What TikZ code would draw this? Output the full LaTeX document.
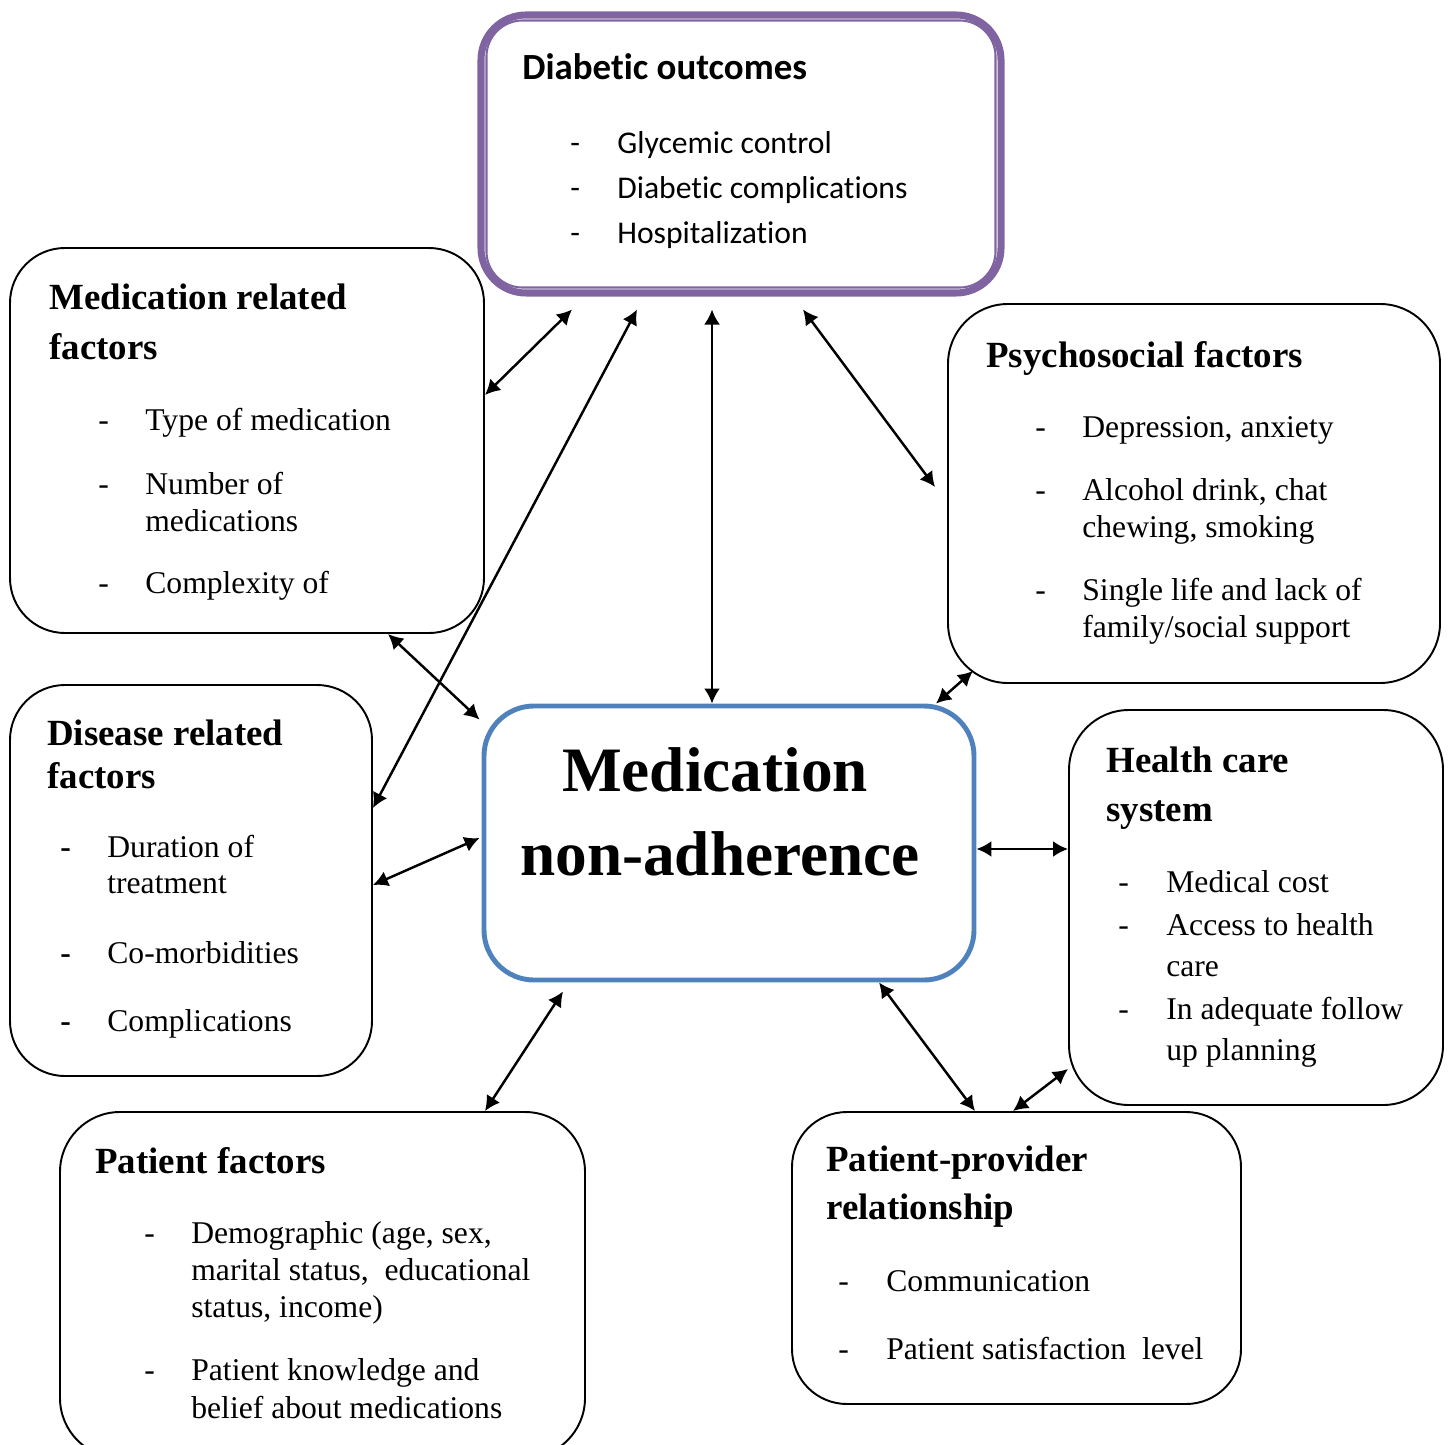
\documentclass[tikz,border=0pt]{standalone}
\usepackage{fontspec}
\setmainfont{Liberation Serif}
\newfontfamily\calibri[Ligatures=NoCommon]{Carlito}
\usetikzlibrary{arrows.meta}
\usetikzlibrary{calc}
\definecolor{outpurple}{HTML}{8064A2}
\definecolor{nonblue}{HTML}{4F81BD}
\newcommand{\pxu}{0.2mm}

\begin{document}
\begin{tikzpicture}[x=\pxu,y=-\pxu]
   \tikzstyle{box} = [draw, line width=1.1pt, rounded corners=11mm,
     inner sep=0pt]
   \tikzstyle{ttl} = [anchor=base west, inner sep=0pt,
     font=\fontsize{21}{25}\selectfont\bfseries]
   \tikzstyle{itm} = [anchor=base west, inner sep=0pt,
     font=\fontsize{18}{21}\selectfont]
   \tikzstyle{sttl} = [ttl, font=\calibri\fontsize{21}{25}\selectfont\bfseries]
   \tikzstyle{sitm} = [itm, font=\calibri\fontsize{18}{21}\selectfont]
   \tikzstyle{big} = [anchor=base, inner sep=0pt,
     font=\fontsize{36}{43}\selectfont\bfseries]
   \tikzstyle{link} = [draw, line width=1.4pt,
     {Latex[length=3mm,width=3.2mm]}-{Latex[length=3mm,width=3.2mm]}]
   \useasboundingbox (0,0) rectangle (1450,1444);
    %%
    \node (dout) [box, draw=outpurple, line width=4pt, rounded corners=9mm,
      minimum width=104mm, minimum height=55.6mm] at (741,154) {};
    \draw [outpurple, line width=1.2pt, rounded corners=7.2mm]
      ($(dout.north west)+(9,9)$) rectangle ($(dout.south east)+(-9,-9)$);
    \node (doT) [sttl] at (522,80) {Diabetic outcomes};
    \node (doD1) [sitm] at (570,154) {-}; \node (doI1) [sitm] at (617,154) {Glycemic control};
    \node (doD2) [sitm] at (570,199) {-}; \node (doI2) [sitm] at (617,199) {Diabetic complications};
    \node (doD3) [sitm] at (570,244) {-}; \node (doI3) [sitm] at (617,244) {Hospitalization};
    %%
    \node (medrel) [box, minimum width=94.8mm, minimum height=77mm] at (247,440.5) {};
    \node (mrT1) [ttl] at (49,310) {Medication related};
    \node (mrT2) [ttl] at (49,359) {factors};
    \node (mrD1) [itm] at (98,430) {-}; \node (mrI1) [itm] at (145,430) {Type of medication};
    \node (mrD2) [itm] at (98,494) {-}; \node (mrI2a) [itm] at (145,494) {Number of};
    \node (mrI2b) [itm] at (145,531) {medications};
    \node (mrD3) [itm] at (98,593) {-}; \node (mrI3) [itm] at (145,593) {Complexity of};
    %%
    \node (psycho) [box, rounded corners=12mm, minimum width=98.4mm, minimum height=75.8mm]
      at (1194,493.5) {};
    \node (psT) [ttl] at (986,367) {Psychosocial factors};
    \node (psD1) [itm] at (1035,437) {-}; \node (psI1) [itm] at (1082,437) {Depression, anxiety};
    \node (psD2) [itm] at (1035,500) {-}; \node (psI2a) [itm] at (1082,500) {Alcohol drink, chat};
    \node (psI2b) [itm] at (1082,537) {chewing, smoking};
    \node (psD3) [itm] at (1035,600) {-}; \node (psI3a) [itm] at (1082,600) {Single life and lack of};
    \node (psI3b) [itm] at (1082,637) {family/social support};
    %%
    \node (disease) [box, minimum width=72.4mm, minimum height=78.2mm] at (191,880.5) {};
    \node (drT1) [ttl] at (47,745) {Disease related};
    \node (drT2) [ttl] at (47,788) {factors};
    \node (drD1) [itm] at (60,857) {\bfseries -}; \node (drI1a) [itm] at (107,857) {Duration of};
    \node (drI1b) [itm] at (107,893) {treatment};
    \node (drD2) [itm] at (60,963) {\bfseries -}; \node (drI2) [itm] at (107,963) {Co-morbidities};
    \node (drD3) [itm] at (60,1031) {\bfseries -}; \node (drI3) [itm] at (107,1031) {Complications};
    %%
    \node (nonadh) [box, draw=nonblue, line width=2.8pt, rounded corners=10mm,
      minimum width=98mm, minimum height=54.8mm] at (729,843) {};
    \node (naT1) [big] at (715,791) {Medication};
    \node (naT2) [big] at (720,875) {non-adherence};
    %%
    \node (health) [box, rounded corners=12mm, minimum width=74.8mm, minimum height=79mm]
      at (1256,907.5) {};
    \node (hcT1) [ttl] at (1106,772) {Health care};
    \node (hcT2) [ttl] at (1106,821) {system};
    \node (hcD1) [itm] at (1118,892) {-}; \node (hcI1) [itm] at (1166,892) {Medical cost};
    \node (hcD2) [itm] at (1118,935) {-}; \node (hcI2a) [itm] at (1166,935) {Access to health};
    \node (hcI2b) [itm] at (1166,976) {care};
    \node (hcD3) [itm] at (1118,1019) {-}; \node (hcI3a) [itm] at (1166,1019) {In adequate follow};
    \node (hcI3b) [itm] at (1166,1060) {up planning};
    %%
    \node (patient) [box, rounded corners=12mm, minimum width=105mm, minimum height=69.2mm]
      at (322.5,1285) {};
    \node (pfT) [ttl] at (95,1173) {Patient factors};
    \node (pfD1) [itm] at (144,1243) {-}; \node (pfI1a) [itm] at (191,1243) {Demographic (age, sex,};
    \node (pfI1b) [itm] at (191,1280) {marital status,\ \ educational};
    \node (pfI1c) [itm] at (191,1317) {status, income)};
    \node (pfD2) [itm] at (144,1380) {-}; \node (pfI2a) [itm] at (191,1380) {Patient knowledge and};
    \node (pfI2b) [itm] at (191,1418) {belief about medications};
    %%
    \node (ppr) [box, minimum width=89.8mm, minimum height=58.4mm] at (1016.5,1258) {};
    \node (ppT1) [ttl] at (826,1171) {Patient-provider};
    \node (ppT2) [ttl] at (826,1219) {relationship};
    \node (ppD1) [itm] at (838,1291) {-}; \node (ppI1) [itm] at (886,1291) {Communication};
    \node (ppD2) [itm] at (838,1359) {-}; \node (ppI2) [itm] at (886,1359) {Patient satisfaction\ \ level};
    %%
    \path [link] ($(medrel.east)+(0,-45.5)$) -- ($(dout.south)+(-169,13)$);
    \path [link] ($(disease.east)+(0,-72.5)$) -- ($(dout.south)+(-104,13)$);
    \path [link] ($(nonadh.north)+(-17,0)$) -- ($(dout.south)+(-29,13)$);
    \path [link] ($(psycho.west)+(-12,-6.5)$) -- ($(dout.south)+(62,13)$);
    \path [link] ($(medrel.south)+(141,0)$) -- ($(nonadh.north west)+(-2,16)$);
    \path [link] ($(disease.east)+(0,4.5)$) -- ($(nonadh.west)+(-2,-5)$);
    \path [link] ($(psycho.south west)+(26,-13)$) -- ($(nonadh.north)+(207,0)$);
    \path [link] ($(nonadh.east)+(0,6)$) -- ($(health.west)+(0,-58.5)$);
    \path [link] ($(nonadh.south)+(-166,9)$) -- ($(patient.north)+(162.5,0)$);
    \path [link] ($(nonadh.south)+(150,0)$) -- ($(ppr.north)+(-41.5,0)$);
    \path [link] ($(ppr.north)+(-3.5,0)$) -- ($(health.west)+(0,161.5)$);
  \end{tikzpicture}
\end{document}
